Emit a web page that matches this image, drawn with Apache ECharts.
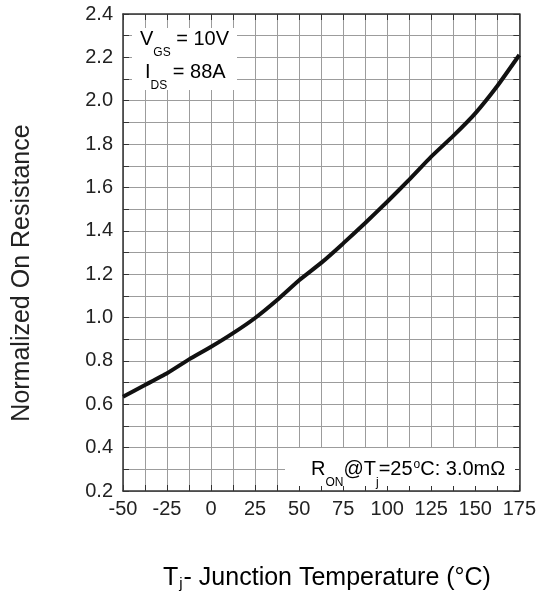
<!DOCTYPE html>
<html>
<head>
<meta charset="utf-8">
<script src="https://cdn.jsdelivr.net/npm/echarts@6/dist/echarts.min.js"></script>
<style>
html,body{margin:0;padding:0;background:#fff;}
#chart{width:539px;height:602px;}
</style>
</head>
<body>
<div id="chart"></div>
<script>
// Junction temperature (°C)
var temps = [-50, -37.5, -25, -12.5, 0, 12.5, 25, 37.5, 50, 62.5, 75, 87.5, 100, 112.5, 125, 137.5, 150, 162.5, 175];
// Normalized on resistance
var ron = [0.635, 0.689, 0.743, 0.807, 0.865, 0.928, 0.998, 1.081, 1.172, 1.252, 1.342, 1.436, 1.534, 1.636, 1.742, 1.838, 1.942, 2.068, 2.211];
var xTicks = [-50, -25, 0, 25, 50, 75, 100, 125, 150, 175];
var yTicks = [0.2, 0.4, 0.6, 0.8, 1.0, 1.2, 1.4, 1.6, 1.8, 2.0, 2.2, 2.4];

var FONT = 'Liberation Sans, Arial, sans-serif';
var TXT = '#222';
var GRIDC = '#9c9c9c';
var AXC = '#333';

var chart = echarts.init(document.getElementById('chart'));

function xAx(pos, labels) {
  return {
    type: 'value', position: pos,
    min: xTicks[0], max: xTicks[xTicks.length - 1], interval: 25,
    axisLine: {show: true, onZero: false, lineStyle: {color: AXC, width: 1.5}},
    axisTick: {show: true, inside: true, length: 6, lineStyle: {color: AXC}},
    minorTick: {show: true, splitNumber: 2, length: 6, lineStyle: {color: AXC}},
    splitLine: {show: labels, lineStyle: {color: GRIDC, width: 1}},
    minorSplitLine: {show: labels, lineStyle: {color: GRIDC, width: 1}},
    axisLabel: {show: labels, fontSize: 20, color: TXT, fontFamily: FONT, margin: 8}
  };
}
function yAx(pos, labels) {
  return {
    type: 'value', position: pos,
    min: yTicks[0], max: yTicks[yTicks.length - 1], interval: 0.2,
    axisLine: {show: true, onZero: false, lineStyle: {color: AXC, width: 1.5}},
    axisTick: {show: true, inside: true, length: 6, lineStyle: {color: AXC}},
    minorTick: {show: true, splitNumber: 2, length: 6, lineStyle: {color: AXC}},
    splitLine: {show: labels, lineStyle: {color: GRIDC, width: 1}},
    minorSplitLine: {show: labels, lineStyle: {color: GRIDC, width: 1}},
    axisLabel: {show: labels, fontSize: 20, color: TXT, fontFamily: FONT, margin: 10,
      formatter: function (v) { return v.toFixed(1); }}
  };
}

var subRich = {
  m: {fontSize: 20, fontFamily: FONT, color: TXT, lineHeight: 22, verticalAlign: 'top'},
  s: {fontSize: 12, fontFamily: FONT, color: TXT, lineHeight: 12, padding: [18, 0, 0, 0], verticalAlign: 'top'},
  u: {fontSize: 12, fontFamily: FONT, color: TXT, lineHeight: 12, padding: [0, 0, 0, 1], verticalAlign: 'top'}
};

chart.setOption({
  animation: false,
  backgroundColor: '#fff',
  grid: {left: 123, right: 18, top: 14, bottom: 111, containLabel: false},
  xAxis: [xAx('bottom', true), xAx('top', false)],
  yAxis: [yAx('left', true), yAx('right', false)],
  series: [{
    type: 'line',
    data: temps.map(function (t, i) { return [t, ron[i]]; }),
    showSymbol: false,
    smooth: 0.15,
    lineStyle: {color: '#111', width: 4},
    z: 5
  }],
  graphic: [
    {type: 'rect', z: 50, shape: {x: 132, y: 28, width: 105, height: 62}, style: {fill: '#fff'}},
    {type: 'text', z: 51, left: 140, top: 29, style: {
      text: '{m|V}{s|GS}{m| = 10V}', rich: subRich}},
    {type: 'text', z: 51, left: 145, top: 62, style: {
      text: '{m|I}{s|DS}{m| = 88A}', rich: subRich}},
    {type: 'rect', z: 50, shape: {x: 285, y: 448, width: 230, height: 38}, style: {fill: '#fff'}},
    {type: 'text', z: 51, left: 311, top: 459, style: {
      text: '{m|R}{s|ON}{m|@T}{s|j}{m|=25}{u|o}{m|C: 3.0m\u03A9}', rich: subRich}},
    {type: 'text', z: 51, x: 22, y: 273, rotation: Math.PI / 2, style: {
      text: 'Normalized On Resistance', font: '25px ' + FONT, fill: TXT,
      align: 'center', verticalAlign: 'middle'}},
    {type: 'text', z: 51, left: 163, top: 566, style: {
      text: '{t|T}{j|j}{t|- Junction Temperature (\u00B0C)}',
      rich: {
        t: {fontSize: 25, fontFamily: FONT, color: TXT, lineHeight: 27, verticalAlign: 'top'},
        j: {fontSize: 15, fontFamily: FONT, color: TXT, lineHeight: 15, padding: [10, 1, 0, 1], verticalAlign: 'top'}
      }}}
  ]
});
</script>
</body>
</html>
